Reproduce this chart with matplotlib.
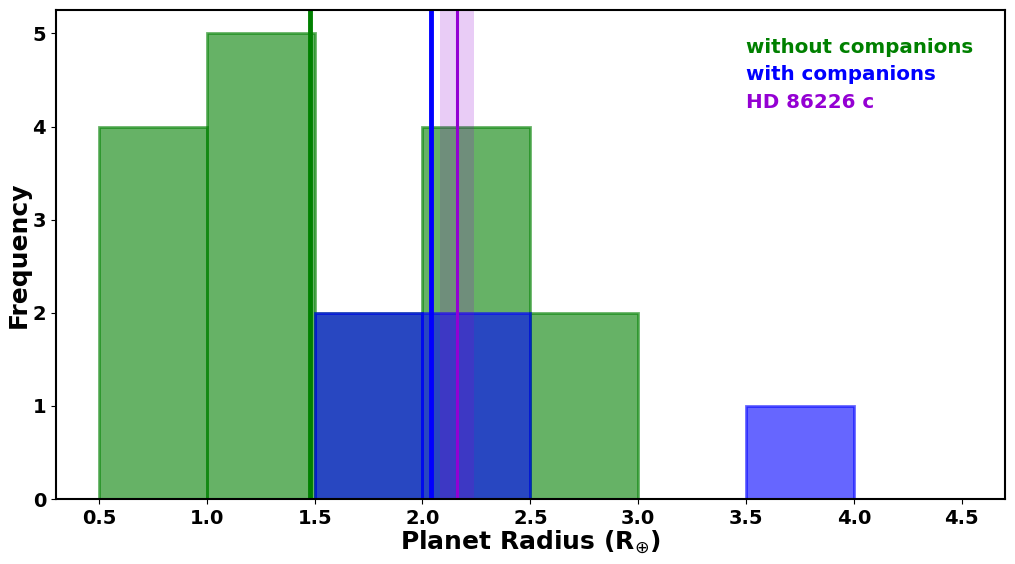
import matplotlib
matplotlib.use('Agg')
import matplotlib.pyplot as plt

# histogram bins (left edges) and counts
bin_edges_left = [0.5, 1.0, 1.5, 2.0, 2.5, 3.0, 3.5, 4.0]
counts_without = [4, 5, 2, 4, 2, 0, 0, 0]
counts_with = [0, 0, 2, 2, 0, 0, 1, 0]
bin_width = 0.5

mean_without = 1.478
mean_with = 2.04
target_radius = 2.16
target_err = 0.08

fig, ax = plt.subplots(figsize=(10.15, 5.64), dpi=100)

ax.bar(bin_edges_left, counts_without, width=bin_width, align='edge',
       color='green', alpha=0.6, edgecolor='green', linewidth=2)
ax.bar(bin_edges_left, counts_with, width=bin_width, align='edge',
       color='blue', alpha=0.6, edgecolor='blue', linewidth=2)

ax.axvline(mean_without, color='green', linewidth=3.5)
ax.axvline(mean_with, color='blue', linewidth=3.5)
ax.axvspan(target_radius - target_err, target_radius + target_err,
           color='darkviolet', alpha=0.2, linewidth=0)
ax.axvline(target_radius, color='darkviolet', linewidth=2.2)

ax.text(0.727, 0.944, 'without companions', transform=ax.transAxes,
        color='green', fontsize=14.3, fontweight='bold', va='top')
ax.text(0.727, 0.887, 'with companions', transform=ax.transAxes,
        color='blue', fontsize=14.3, fontweight='bold', va='top')
ax.text(0.727, 0.830, 'HD 86226 c', transform=ax.transAxes,
        color='darkviolet', fontsize=14.3, fontweight='bold', va='top')

ax.set_xlim(0.3, 4.7)
ax.set_ylim(0, 5.25)
ax.set_xticks([0.5, 1.0, 1.5, 2.0, 2.5, 3.0, 3.5, 4.0, 4.5])
ax.set_xlabel(r'Planet Radius (R$_{\oplus}$)', fontsize=18, fontweight='bold', labelpad=0.5)
ax.set_ylabel('Frequency', fontsize=18, fontweight='bold', labelpad=1)
ax.tick_params(labelsize=14)
for lab in ax.get_xticklabels() + ax.get_yticklabels():
    lab.set_fontweight('bold')
for spine in ax.spines.values():
    spine.set_linewidth(1.5)

fig.subplots_adjust(left=0.055, right=0.99, top=0.982, bottom=0.115)
fig.savefig('out.png', dpi=100)
plt.close(fig)
